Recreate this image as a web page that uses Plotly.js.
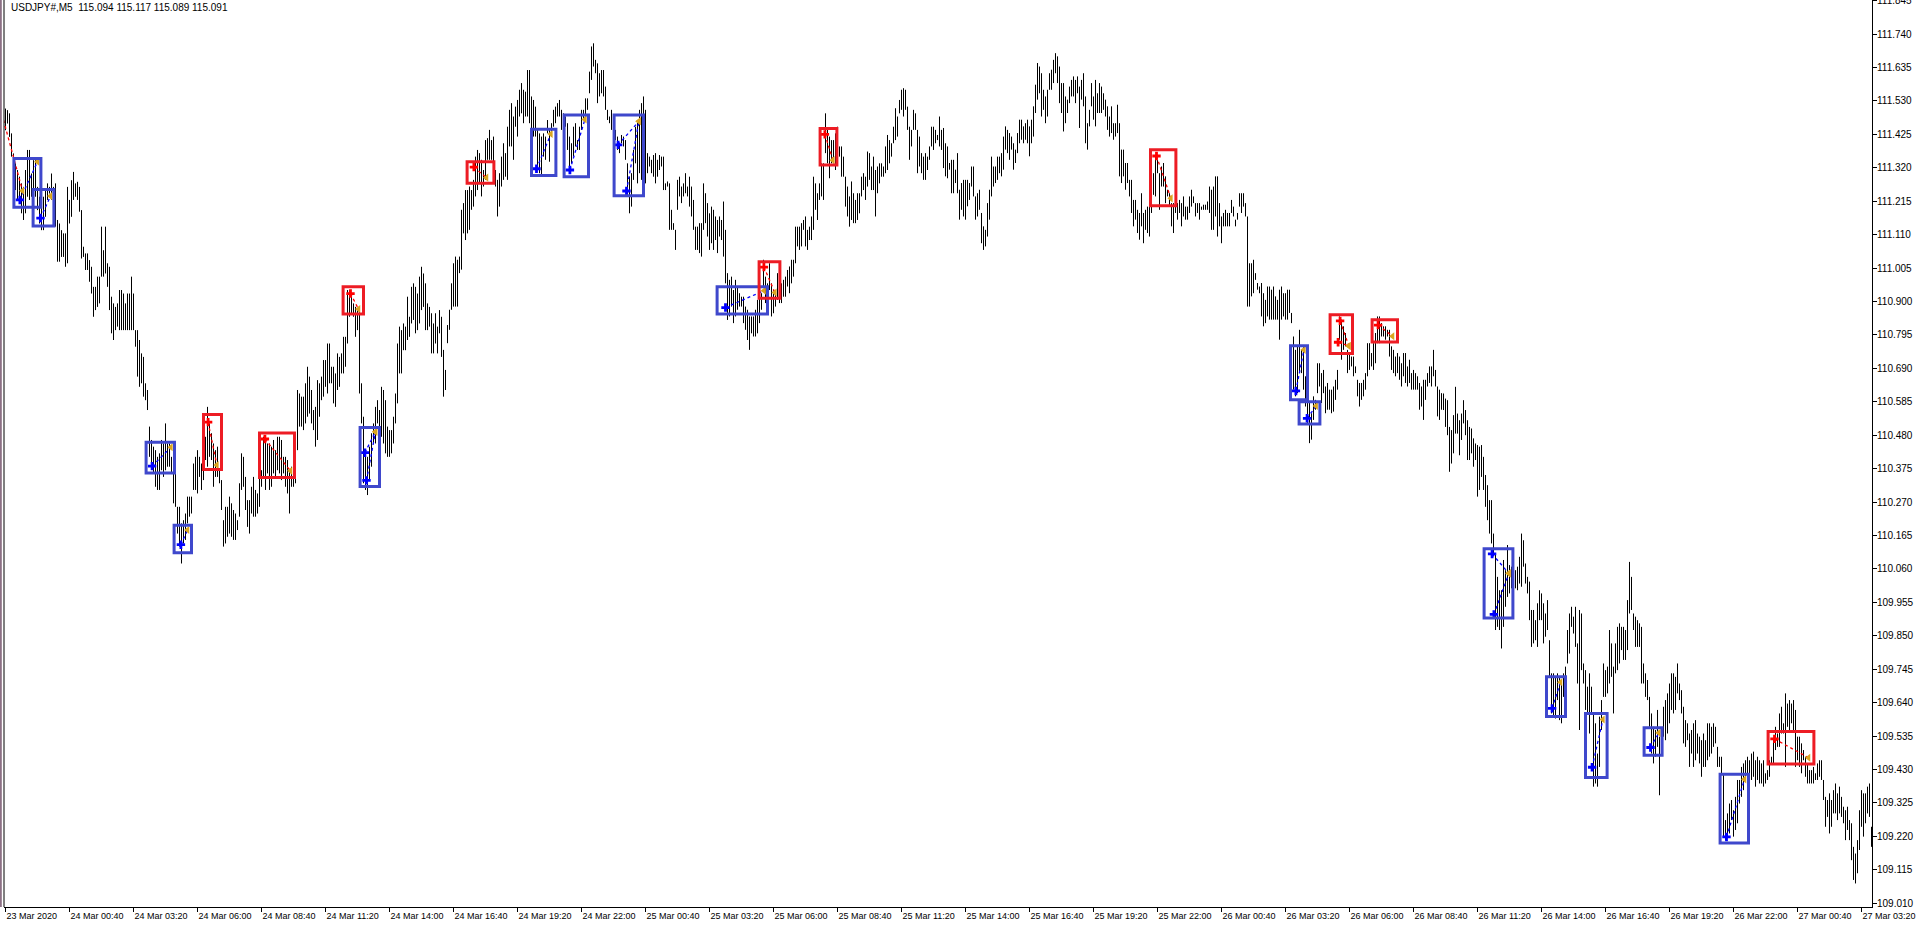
<!DOCTYPE html>
<html>
<head>
<meta charset="utf-8">
<script src="https://cdn.plot.ly/plotly-3.0.1.min.js"></script>
<style>
html,body{margin:0;padding:0;background:#fff;overflow:hidden}
#chart{width:1916px;height:926px}
</style>
</head>
<body>
<div id="chart"></div>
<script>
// ---------- DATA ----------
const symbolTitle = 'USDJPY#,M5  115.094 115.117 115.089 115.091';
const firstBarTime = '2020-03-23 22:00';
const barMinutes = 5;

const barHigh = [
111.506,111.501,111.491,111.428,111.365,111.334,111.313,111.292,111.271,111.260,
111.313,111.376,111.376,111.302,111.344,111.344,111.260,111.229,111.208,111.229,
111.250,111.271,111.260,111.302,111.260,111.271,111.156,111.145,111.124,111.114,
111.114,111.260,111.219,111.281,111.307,111.271,111.276,111.260,111.187,111.072,
111.051,111.051,111.030,111.009,110.946,110.946,110.978,110.978,111.135,111.061,
111.135,111.020,111.009,110.915,110.894,110.883,110.894,110.936,110.936,110.925,
110.894,110.925,110.925,110.978,110.925,110.810,110.810,110.779,110.737,110.726,
110.643,110.622,110.507,110.465,110.444,110.433,110.412,110.423,110.465,110.454,
110.517,110.454,110.454,110.412,110.412,110.391,110.255,110.255,110.203,110.213,
110.234,110.287,110.287,110.287,110.391,110.412,110.433,110.412,110.391,110.423,
110.475,110.569,110.517,110.486,110.454,110.433,110.444,110.370,110.339,110.213,
110.255,110.255,110.287,110.266,110.245,110.234,110.213,110.329,110.423,110.412,
110.349,110.276,110.276,110.318,110.349,110.308,110.297,110.349,110.370,110.475,
110.465,110.454,110.454,110.444,110.465,110.433,110.475,110.475,110.465,110.412,
110.412,110.402,110.370,110.381,110.381,110.433,110.622,110.611,110.601,110.601,
110.643,110.695,110.664,110.622,110.559,110.569,110.653,110.643,110.664,110.716,
110.716,110.768,110.768,110.695,110.695,110.674,110.737,110.726,110.737,110.789,
110.789,110.936,110.936,110.915,110.894,110.883,110.873,110.873,110.643,110.538,
110.412,110.412,110.444,110.486,110.517,110.569,110.590,110.559,110.632,110.622,
110.590,110.507,110.496,110.496,110.538,110.611,110.768,110.821,110.810,110.831,
110.821,110.915,110.852,110.946,110.957,110.946,110.925,110.978,111.009,110.988,
110.957,110.894,110.883,110.863,110.831,110.863,110.821,110.873,110.852,
110.748,110.685,110.826,110.874,110.957,111.020,111.041,111.031,111.041,111.188,
111.209,111.250,111.250,111.261,111.250,111.282,111.355,111.376,111.366,111.345,
111.313,111.407,111.413,111.439,111.407,111.418,111.313,111.282,111.303,111.355,
111.397,111.366,111.449,111.502,111.523,111.481,111.512,111.533,111.565,111.586,
111.565,111.559,111.627,111.627,111.544,111.533,111.512,111.439,111.428,111.418,
111.428,111.418,111.470,111.439,111.460,111.502,111.512,111.523,111.533,111.502,
111.491,111.481,111.460,111.418,111.397,111.449,111.460,111.407,111.449,111.502,
111.502,111.538,111.538,111.622,111.701,111.711,111.659,111.648,111.617,111.627,
111.627,111.575,111.502,111.481,111.502,111.470,111.439,111.418,111.397,111.423,
111.418,111.407,111.334,111.292,111.303,111.376,111.449,111.470,111.502,111.523,
111.544,111.502,111.366,111.355,111.345,111.360,111.366,111.345,111.360,111.355,
111.355,111.271,111.277,111.271,111.188,111.146,111.125,111.282,111.292,111.261,
111.271,111.303,111.261,111.292,111.261,111.219,111.135,111.135,111.146,111.146,
111.271,111.240,111.209,111.177,111.198,111.188,111.167,111.156,111.167,111.156,
111.214,111.125,110.989,110.968,110.978,110.936,110.968,110.947,110.926,110.915,
110.915,110.884,110.874,110.853,110.853,110.853,110.874,110.905,110.915,110.926,
111.031,110.978,110.957,111.020,110.957,110.936,110.936,110.989,110.957,110.957,
110.968,110.978,110.999,111.010,111.031,111.031,111.135,111.135,111.135,111.146,
111.156,111.167,111.125,111.135,111.167,111.292,111.271,111.240,111.271,111.334,
111.334,111.491,111.439,111.418,111.407,111.407,111.428,111.449,111.387,111.387,
111.355,111.292,111.261,111.230,111.277,111.240,111.219,111.240,111.240,111.292,
111.303,111.292,111.371,111.366,111.324,111.355,111.313,111.324,111.334,111.334,
111.324,111.387,111.423,111.407,111.397,111.449,111.507,111.481,111.533,111.565,
111.570,111.565,111.512,111.449,111.439,111.502,111.491,111.439,111.418,111.366,
111.355,111.366,111.355,111.387,111.449,111.449,111.439,111.423,111.481,111.439,
111.445,111.397,111.387,111.335,111.345,111.345,111.314,111.366,111.251,111.272,
111.282,111.282,111.282,111.272,111.324,111.324,111.230,111.240,111.251,111.178,
111.136,111.125,111.209,111.251,111.355,111.324,111.324,111.355,111.355,111.366,
111.418,111.450,111.439,111.429,111.418,111.397,111.377,111.429,111.471,111.471,
111.450,111.460,111.471,111.450,111.471,111.513,111.581,111.649,111.638,111.617,
111.565,111.544,111.565,111.617,111.628,111.659,111.680,111.670,111.638,111.586,
111.586,111.544,111.534,111.575,111.596,111.607,111.596,111.607,111.575,111.596,
111.617,111.544,111.460,111.502,111.586,111.544,111.596,111.554,111.586,111.575,
111.554,111.534,111.513,111.481,111.513,111.460,111.460,111.518,111.460,111.377,
111.377,111.335,111.335,111.282,111.282,111.219,111.219,111.188,111.178,111.240,
111.178,111.188,111.198,111.198,111.240,111.303,111.355,111.345,111.303,111.324,
111.335,111.293,111.251,111.240,111.209,111.209,111.219,111.209,111.219,111.209,
111.230,111.198,111.198,111.230,111.251,111.230,111.209,111.209,111.209,111.198,
111.204,111.204,111.214,111.261,111.251,111.261,111.293,111.293,111.209,111.167,
111.178,111.188,111.178,111.178,111.219,111.198,111.157,111.178,111.240,111.240,
111.240,111.209,111.167,111.020,111.020,111.031,110.989,110.958,110.947,110.958,
110.926,110.905,110.947,110.947,110.937,110.947,110.916,110.905,110.937,110.947,
110.926,110.926,110.937,110.937,110.864,110.790,110.748,110.759,110.811,110.748,
110.759,110.665,110.581,110.581,110.549,110.602,110.591,110.706,110.706,110.675,
110.685,110.633,110.644,110.623,110.623,110.633,110.654,110.685,110.853,110.843,
110.822,110.801,110.748,110.738,110.727,110.727,110.696,110.654,110.644,110.644,
110.654,110.675,110.769,110.769,110.738,110.769,110.801,110.853,110.853,110.832,
110.822,110.822,110.811,110.811,110.759,110.748,110.727,110.738,110.727,110.706,
110.738,110.738,110.696,110.717,110.675,110.685,110.675,110.665,110.644,110.633,
110.654,110.654,110.675,110.696,110.696,110.748,110.685,110.633,110.623,110.612,
110.611,110.595,110.590,110.506,110.496,110.543,110.632,110.548,110.527,110.548,
110.590,110.559,110.527,110.506,110.501,110.470,110.454,110.449,110.444,110.449,
110.412,110.355,110.323,110.276,110.276,110.171,110.109,110.035,109.993,109.993,
110.088,110.056,110.135,110.072,110.067,110.067,110.056,110.067,110.098,110.171,
110.150,110.077,110.035,110.020,109.931,109.931,109.899,109.952,109.993,109.983,
109.952,109.920,109.962,109.836,109.732,109.732,109.721,109.732,109.721,109.711,
109.732,109.753,109.868,109.920,109.941,109.910,109.941,109.826,109.931,109.920,
109.763,109.742,109.690,109.732,109.690,109.606,109.575,109.480,109.596,109.648,
109.763,109.742,109.753,109.868,109.826,109.753,109.826,109.878,109.889,109.878,
109.878,109.868,109.962,110.082,110.035,109.920,109.910,109.899,109.889,109.878,
109.763,109.732,109.711,109.658,109.606,109.564,109.554,109.617,109.533,109.543,
109.627,109.648,109.669,109.700,109.732,109.732,109.721,109.763,109.700,109.679,
109.627,109.585,109.575,109.543,109.554,109.575,109.585,109.543,109.533,109.522,
109.543,109.522,109.575,109.575,109.564,109.575,109.564,109.501,109.470,109.470,
109.418,109.271,109.292,109.323,109.334,109.302,109.344,109.397,109.397,109.438,
109.449,109.459,109.470,109.459,109.480,109.486,109.459,109.470,109.459,109.449,
109.459,109.418,109.428,109.459,109.470,109.522,109.564,109.543,109.606,109.627,
109.575,109.669,109.637,109.648,109.637,109.648,109.617,109.533,109.533,109.512,
109.491,109.470,109.449,109.428,109.428,109.438,109.418,109.449,109.459,109.459,
109.397,109.344,109.334,109.355,109.334,109.365,109.386,109.355,109.376,109.344,
109.313,109.302,109.313,109.271,109.261,109.187,109.166,109.208,109.302,109.365,
109.355,109.355,109.376,109.386,109.250
];

const barLow = [
111.438,111.459,111.417,111.355,111.292,111.250,111.219,111.219,111.177,111.156,
111.177,111.229,111.219,111.229,111.250,111.229,111.187,111.145,111.124,111.124,
111.166,111.219,111.239,111.219,111.187,111.135,111.025,111.025,111.040,111.040,
111.009,111.020,111.145,111.166,111.219,111.229,111.219,111.182,111.035,111.040,
110.999,110.999,110.962,110.925,110.852,110.873,110.883,110.894,110.978,110.978,
110.988,110.946,110.873,110.800,110.779,110.810,110.821,110.810,110.810,110.810,
110.810,110.810,110.810,110.810,110.810,110.758,110.664,110.632,110.643,110.601,
110.590,110.559,110.412,110.381,110.360,110.318,110.308,110.308,110.370,110.349,
110.370,110.381,110.381,110.360,110.266,110.255,110.171,110.130,110.077,110.140,
110.151,110.203,110.224,110.234,110.308,110.308,110.297,110.349,110.308,110.339,
110.402,110.381,110.412,110.402,110.318,110.349,110.349,110.329,110.245,110.130,
110.140,110.161,110.171,110.161,110.151,110.151,110.182,110.224,110.308,110.318,
110.245,110.192,110.171,110.234,110.224,110.224,110.234,110.255,110.318,110.349,
110.308,110.360,110.308,110.318,110.360,110.349,110.370,110.360,110.339,110.360,
110.318,110.297,110.234,110.318,110.318,110.329,110.433,110.507,110.507,110.496,
110.517,110.538,110.548,110.517,110.496,110.444,110.465,110.538,110.590,110.601,
110.632,110.611,110.643,110.643,110.580,110.569,110.622,110.632,110.674,110.674,
110.695,110.768,110.852,110.863,110.852,110.789,110.810,110.611,110.517,110.329,
110.308,110.292,110.339,110.381,110.454,110.454,110.517,110.507,110.475,110.454,
110.423,110.412,110.412,110.423,110.454,110.517,110.580,110.674,110.674,110.747,
110.747,110.779,110.789,110.831,110.842,110.800,110.810,110.831,110.873,110.883,
110.810,110.810,110.821,110.737,110.737,110.768,110.737,110.800,110.726,
110.601,110.622,110.769,110.811,110.874,110.884,110.884,110.884,110.989,111.000,
111.114,111.093,111.114,111.125,111.188,111.198,111.230,111.250,111.271,111.230,
111.261,111.282,111.345,111.345,111.345,111.303,111.261,111.167,111.198,111.261,
111.282,111.292,111.282,111.387,111.387,111.345,111.449,111.418,111.481,111.491,
111.460,111.481,111.481,111.460,111.418,111.418,111.418,111.313,111.303,111.292,
111.355,111.345,111.428,111.339,111.418,111.449,111.460,111.481,111.481,111.439,
111.407,111.449,111.376,111.313,111.334,111.355,111.387,111.376,111.376,111.439,
111.470,111.481,111.502,111.554,111.596,111.638,111.617,111.523,111.544,111.554,
111.544,111.502,111.470,111.460,111.439,111.439,111.407,111.376,111.366,111.397,
111.387,111.345,111.230,111.177,111.198,111.282,111.334,111.271,111.303,111.282,
111.439,111.271,111.303,111.324,111.303,111.292,111.271,111.292,111.313,111.324,
111.250,111.250,111.261,111.125,111.125,111.125,111.062,111.188,111.230,111.209,
111.230,111.240,111.230,111.198,111.167,111.125,111.062,111.062,111.052,111.041,
111.125,111.146,111.104,111.062,111.083,111.062,111.093,111.052,111.104,111.093,
111.041,110.957,110.842,110.853,110.884,110.832,110.853,110.874,110.884,110.884,
110.832,110.811,110.779,110.748,110.800,110.790,110.790,110.800,110.832,110.874,
110.947,110.895,110.884,110.936,110.853,110.863,110.884,110.905,110.895,110.895,
110.915,110.915,110.947,110.926,110.957,110.978,111.020,111.073,111.062,111.073,
111.125,111.073,111.062,111.093,111.093,111.125,111.188,111.156,111.219,111.230,
111.219,111.366,111.334,111.287,111.334,111.334,111.313,111.407,111.355,111.292,
111.292,111.198,111.167,111.135,111.156,111.146,111.146,111.156,111.177,111.230,
111.250,111.219,111.261,111.282,111.250,111.250,111.167,111.240,111.271,111.292,
111.292,111.303,111.313,111.334,111.355,111.397,111.407,111.418,111.491,111.502,
111.481,111.502,111.439,111.345,111.387,111.439,111.439,111.303,111.324,111.303,
111.282,111.282,111.313,111.345,111.387,111.376,111.397,111.407,111.387,111.376,
111.319,111.293,111.287,111.314,111.240,111.240,111.272,111.240,111.157,111.188,
111.167,111.157,111.199,111.219,111.261,111.230,111.157,111.167,111.188,111.083,
111.062,111.073,111.104,111.157,111.230,111.261,111.272,111.282,111.303,111.293,
111.314,111.377,111.366,111.345,111.377,111.314,111.335,111.366,111.397,111.408,
111.397,111.408,111.397,111.356,111.397,111.418,111.492,111.534,111.554,111.481,
111.502,111.460,111.481,111.565,111.565,111.586,111.617,111.586,111.523,111.492,
111.434,111.460,111.492,111.523,111.544,111.544,111.523,111.554,111.445,111.534,
111.513,111.397,111.377,111.450,111.513,111.471,111.450,111.492,111.492,111.492,
111.502,111.481,111.439,111.418,111.429,111.408,111.418,111.429,111.293,111.272,
111.293,111.251,111.272,111.230,111.178,111.136,111.157,111.115,111.094,111.136,
111.083,111.125,111.115,111.104,111.178,111.235,111.230,111.303,111.188,111.261,
111.261,111.209,111.230,111.199,111.136,111.115,111.178,111.157,111.178,111.136,
111.167,111.157,111.157,111.178,111.198,111.209,111.167,111.178,111.157,111.188,
111.188,111.188,111.188,111.178,111.125,111.125,111.167,111.104,111.136,111.083,
111.136,111.136,111.136,111.136,111.178,111.167,111.136,111.157,111.198,111.178,
111.198,111.167,110.884,110.884,110.916,110.926,110.968,110.937,110.926,110.853,
110.822,110.832,110.853,110.843,110.843,110.843,110.843,110.843,110.780,110.843,
110.853,110.843,110.843,110.864,110.832,110.623,110.602,110.612,110.675,110.675,
110.623,110.570,110.518,110.455,110.466,110.528,110.560,110.612,110.633,110.581,
110.612,110.549,110.560,110.560,110.549,110.554,110.591,110.623,110.780,110.717,
110.748,110.759,110.675,110.685,110.696,110.665,110.675,110.602,110.570,110.591,
110.602,110.623,110.665,110.685,110.696,110.685,110.706,110.769,110.769,110.790,
110.790,110.780,110.790,110.727,110.685,110.675,110.665,110.675,110.654,110.633,
110.665,110.644,110.633,110.644,110.623,110.623,110.623,110.623,110.560,110.570,
110.528,110.591,110.633,110.644,110.633,110.665,110.633,110.539,110.528,110.560,
110.559,110.506,110.480,110.365,110.391,110.423,110.485,110.485,110.417,110.465,
110.517,110.480,110.402,110.402,110.423,110.381,110.402,110.287,110.308,110.349,
110.308,110.255,110.213,110.171,110.140,110.109,109.868,109.878,109.868,109.810,
109.878,109.941,109.972,109.983,109.999,109.952,109.999,109.993,110.014,110.004,
110.067,110.014,109.983,109.899,109.815,109.826,109.836,109.815,109.899,109.899,
109.826,109.847,109.868,109.721,109.606,109.596,109.590,109.648,109.585,109.575,
109.658,109.669,109.763,109.794,109.878,109.857,109.815,109.700,109.554,109.742,
109.700,109.617,109.606,109.543,109.606,109.376,109.386,109.376,109.438,109.554,
109.658,109.658,109.669,109.700,109.721,109.606,109.732,109.742,109.763,109.805,
109.774,109.774,109.805,109.920,109.931,109.868,109.815,109.815,109.815,109.700,
109.700,109.658,109.648,109.564,109.480,109.449,109.470,109.501,109.349,109.480,
109.533,109.522,109.543,109.575,109.617,109.606,109.617,109.669,109.648,109.606,
109.512,109.501,109.522,109.438,109.480,109.438,109.459,109.480,109.449,109.407,
109.438,109.438,109.459,109.470,109.480,109.501,109.512,109.438,109.438,109.418,
109.219,109.208,109.219,109.229,109.271,109.219,109.240,109.261,109.323,109.344,
109.365,109.397,109.397,109.386,109.397,109.407,109.376,109.397,109.386,109.386,
109.376,109.386,109.397,109.407,109.449,109.449,109.491,109.501,109.501,109.543,
109.543,109.438,109.564,109.554,109.575,109.554,109.438,109.459,109.438,109.418,
109.459,109.407,109.386,109.386,109.386,109.386,109.397,109.397,109.407,109.397,
109.334,109.250,109.281,109.229,109.250,109.292,109.292,109.271,109.292,109.281,
109.261,109.208,109.240,109.208,109.145,109.083,109.072,109.104,109.177,109.250,
109.219,109.261,109.292,109.281,109.187
];

const tickTimes = [
'2020-03-23 22:00','2020-03-24 00:40','2020-03-24 03:20','2020-03-24 06:00','2020-03-24 08:40',
'2020-03-24 11:20','2020-03-24 14:00','2020-03-24 16:40','2020-03-24 19:20','2020-03-24 22:00',
'2020-03-25 00:40','2020-03-25 03:20','2020-03-25 06:00','2020-03-25 08:40','2020-03-25 11:20',
'2020-03-25 14:00','2020-03-25 16:40','2020-03-25 19:20','2020-03-25 22:00','2020-03-26 00:40',
'2020-03-26 03:20','2020-03-26 06:00','2020-03-26 08:40','2020-03-26 11:20','2020-03-26 14:00',
'2020-03-26 16:40','2020-03-26 19:20','2020-03-26 22:00','2020-03-27 00:40','2020-03-27 03:20'
];
const tickLabels = [
'23 Mar 2020','24 Mar 00:40','24 Mar 03:20','24 Mar 06:00','24 Mar 08:40',
'24 Mar 11:20','24 Mar 14:00','24 Mar 16:40','24 Mar 19:20','24 Mar 22:00',
'25 Mar 00:40','25 Mar 03:20','25 Mar 06:00','25 Mar 08:40','25 Mar 11:20',
'25 Mar 14:00','25 Mar 16:40','25 Mar 19:20','25 Mar 22:00','26 Mar 00:40',
'26 Mar 03:20','26 Mar 06:00','26 Mar 08:40','26 Mar 11:20','26 Mar 14:00',
'26 Mar 16:40','26 Mar 19:20','26 Mar 22:00','27 Mar 00:40','27 Mar 03:20'
];

// highlighted boxes (bar index span, price span)
const boxStartBar = [4.2,13.8,70.3,84.3,99,127,168.8,177.3,230.8,263,279.3,304.3,355.8,376.8,407.3,572.5,642.5,646.8,662.3,683.3,739.3,770.5,790,819.3,857.3,881.3];
const boxEndBar   = [17.7,24.2,84.5,93,108,144.5,179,187,244.2,275.2,291.5,319,381,387.2,415.7,585.2,651,657.2,673.5,696,753.7,780,800.8,828.3,871.5,904.2];
const boxLow      = [111.196,111.137,110.361,110.111,110.372,110.347,110.861,110.319,111.271,111.296,111.292,111.232,110.861,110.910,111.329,111.201,110.591,110.515,110.737,110.773,109.906,109.596,109.405,109.475,109.199,109.447];
const boxHigh     = [111.349,111.252,110.458,110.197,110.545,110.487,110.946,110.504,111.339,111.441,111.486,111.486,110.946,111.025,111.443,111.377,110.761,110.585,110.858,110.843,110.123,109.721,109.606,109.561,109.415,109.549];
const boxSide     = ['buy','buy','buy','buy','sell','sell','sell','buy','sell','buy','buy','buy','buy','sell','sell','sell','buy','buy','sell','sell','buy','buy','buy','buy','buy','sell'];

// trades: entry and exit (bar index, price)
const tradeEntryBar   = [-1,7.2,17.5,73.3,87.7,101.3,129.7,172.5,179.7,180.5,234.2,265.5,282.2,306.3,310.5,360,379.2,409.7,575.5,645.2,650.8,667.3,666.3,686.3,743.3,744.2,773.3,793.3,822.5,860.5,884.5];
const tradeEntryPrice = [111.47,111.219,111.162,110.383,110.136,110.521,110.468,110.925,110.425,110.338,111.322,111.317,111.313,111.392,111.247,110.881,111.008,111.425,111.357,110.619,110.533,110.839,110.772,110.826,110.107,109.917,109.622,109.437,109.499,109.218,109.526];
const tradeExitBar    = [8.5,16,22.5,82.7,91,105.7,142.5,176.5,185,185,240.5,272.7,289.7,316.7,316.7,379.3,384.7,413.7,582.7,649.2,655.3,671.7,671.7,693.5,751.7,751.7,777.5,798.7,826.7,869.5,901.5];
const tradeExitPrice  = [111.248,111.339,111.231,110.442,110.182,110.386,110.368,110.876,110.491,110.491,111.289,111.426,111.472,111.466,111.466,110.934,110.928,111.344,111.224,110.748,110.572,110.760,110.760,110.791,110.046,110.046,109.704,109.587,109.545,109.399,109.467];
const tradeSide       = ['sell','buy','buy','buy','buy','sell','sell','sell','buy','buy','sell','buy','buy','buy','buy','buy','sell','sell','sell','buy','buy','sell','sell','sell','buy','buy','buy','buy','buy','buy','sell'];

// ---------- BUILD ----------
const t0 = Date.parse(firstBarTime.replace(' ', 'T') + ':00Z');
const stepMs = barMinutes * 60000;
function barTime(i) {
  return new Date(t0 + i * stepMs).toISOString().replace('T', ' ').slice(0, 23);
}

const nBars = Math.min(barHigh.length, barLow.length);
const bx = [], by = [];
for (let i = 0; i < nBars; i++) {
  const t = barTime(i);
  bx.push(t, t, null);
  by.push(barLow[i], barHigh[i], null);
}

const boxColor = {buy: '#3f48cc', sell: '#ed1c24'};
const arrowColor = {buy: '#0000ff', sell: '#ff0000'};

const traces = [{
  type: 'scatter', mode: 'lines', x: bx, y: by,
  line: {color: '#000000', width: 1}, hoverinfo: 'skip', showlegend: false
}];

// dotted trade connectors
['buy', 'sell'].forEach(side => {
  const lx = [], ly = [];
  for (let k = 0; k < tradeSide.length; k++) {
    if (tradeSide[k] !== side) continue;
    lx.push(barTime(tradeEntryBar[k]), barTime(tradeExitBar[k]), null);
    ly.push(tradeEntryPrice[k], tradeExitPrice[k], null);
  }
  traces.push({type: 'scatter', mode: 'lines', x: lx, y: ly,
    line: {color: arrowColor[side], width: 1.3, dash: 'dot'}, hoverinfo: 'skip', showlegend: false});
  const ex = [], ey = [];
  for (let k = 0; k < tradeSide.length; k++) {
    if (tradeSide[k] !== side || tradeEntryBar[k] < 0) continue;
    ex.push(barTime(tradeEntryBar[k])); ey.push(tradeEntryPrice[k]);
  }
  traces.push({type: 'scatter', mode: 'markers', x: ex, y: ey,
    marker: {symbol: 'cross', size: 7, color: arrowColor[side], line: {width: 0}},
    hoverinfo: 'skip', showlegend: false});
});
traces.push({type: 'scatter', mode: 'markers',
  x: tradeExitBar.map(barTime), y: tradeExitPrice,
  marker: {symbol: 'triangle-left', size: 7, color: '#daa520', line: {width: 0}},
  hoverinfo: 'skip', showlegend: false});

const shapes = [];
for (let k = 0; k < boxSide.length; k++) {
  shapes.push({type: 'rect', xref: 'x', yref: 'y',
    x0: barTime(boxStartBar[k]), x1: barTime(boxEndBar[k]),
    y0: boxLow[k], y1: boxHigh[k],
    line: {color: boxColor[boxSide[k]], width: 3}, fillcolor: 'rgba(0,0,0,0)', layer: 'above'});
}
// chart frame on the left
shapes.push({type: 'line', xref: 'paper', yref: 'paper', x0: 0, x1: 0, y0: 0, y1: 1,
  line: {color: '#000000', width: 1}});
shapes.push({type: 'line', xref: 'paper', yref: 'paper', x0: -3.2/1868, x1: -3.2/1868, y0: 0, y1: 1.05,
  line: {color: '#8c7085', width: 2}});

const layout = {
  width: 1916, height: 926,
  margin: {l: 4, r: 44, t: 0, b: 19, autoexpand: false},
  paper_bgcolor: '#ffffff', plot_bgcolor: '#ffffff',
  showlegend: false,
  font: {family: 'Liberation Sans, Arial, sans-serif', size: 9, color: '#000000'},
  xaxis: {
    type: 'date',
    range: [barTime(-0.75), barTime(nBars - 0.75)],
    tickmode: 'array', tickvals: tickTimes, ticktext: tickLabels,
    ticks: 'outside', ticklen: 4, tickcolor: '#000000', tickwidth: 1,
    ticklabelposition: 'outside right',
    ticklabeloverflow: 'allow',
    tickfont: {family: 'Liberation Sans, Arial, sans-serif', size: 9, color: '#000000'},
    showline: true, linecolor: '#000000', linewidth: 1,
    showgrid: false, zeroline: false, fixedrange: true
  },
  yaxis: {
    side: 'right',
    range: [108.998, 111.847],
    tickmode: 'linear', tick0: 109.010, dtick: 0.105, tickformat: '.3f',
    ticks: 'outside', ticklen: 4, tickcolor: '#000000', tickwidth: 1,
    ticklabeloverflow: 'allow',
    ticklabelstandoff: -2,
    tickfont: {family: 'Liberation Sans, Arial, sans-serif', size: 10, color: '#000000'},
    showline: true, linecolor: '#000000', linewidth: 1,
    showgrid: false, zeroline: false, fixedrange: true
  },
  shapes: shapes,
  annotations: [{
    xref: 'paper', yref: 'paper', x: 5/1868, y: 1, xanchor: 'left', yanchor: 'top',
    text: symbolTitle, showarrow: false,
    font: {family: 'Liberation Sans, Arial, sans-serif', size: 10, color: '#000000'}
  }]
};

Plotly.newPlot('chart', traces, layout, {staticPlot: true, displayModeBar: false});
</script>
</body>
</html>
